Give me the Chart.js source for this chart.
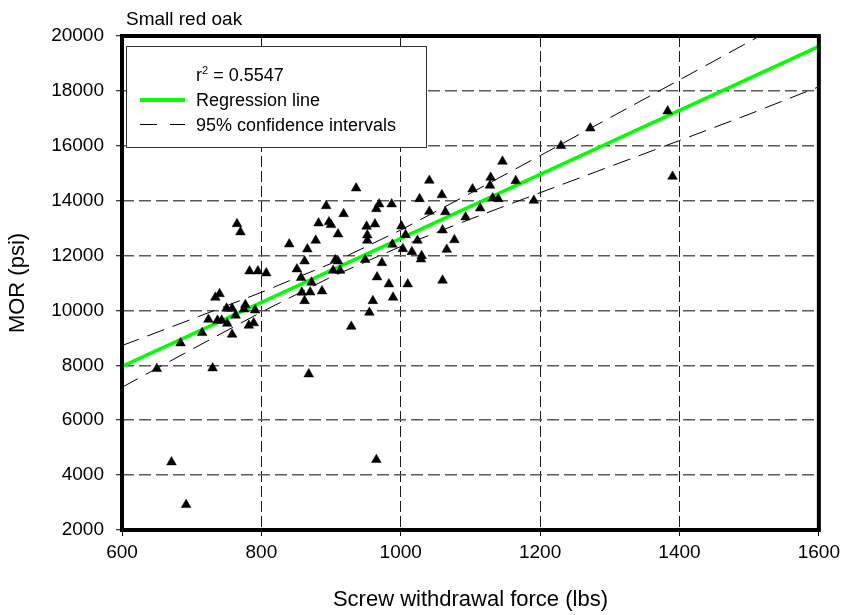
<!DOCTYPE html>
<html>
<head>
<meta charset="utf-8">
<script src="https://cdn.jsdelivr.net/npm/chart.js@4.4.1/dist/chart.umd.min.js"></script>
<style>
html,body{margin:0;padding:0;background:#fff;}
#wrap{position:relative;width:845px;height:615px;font-family:"Liberation Sans",Arial,sans-serif;color:#000;overflow:hidden;}
#c{position:absolute;left:0;top:0;}
#title{position:absolute;left:126px;top:8px;font-size:19px;line-height:22px;white-space:nowrap;}
#legend{position:absolute;left:126px;top:46px;width:301px;height:102px;border:1px solid #333;background:#fff;box-sizing:border-box;font-size:18px;}
.row{position:absolute;left:69px;white-space:nowrap;line-height:20px;height:20px;}
.sup{font-size:11px;position:relative;top:-7px;}
.seg{position:absolute;background:#000;}
</style>
</head>
<body>
<div id="wrap">
  <canvas id="c" width="845" height="615"></canvas>
  <div id="title">Small red oak</div>
  <div id="legend">
    <div class="row" style="top:18px">r<span class="sup">2</span> = 0.5547</div>
    <div class="seg" style="left:13px;top:51px;width:45px;height:4px;background:#00ff00"></div>
    <div class="row" style="top:43px">Regression line</div>
    <div class="seg" style="left:13px;top:77px;width:17px;height:1px"></div>
    <div class="seg" style="left:43px;top:77px;width:15px;height:1px"></div>
    <div class="row" style="top:68px">95% confidence intervals</div>
  </div>
</div>
<script>
// Observations: screw withdrawal force (lbs) and MOR (psi)
const FORCE = [936,893,918,882,897,900,910,765,770,840,878,866,862,906,910,851,903,913,857,783,795,807,872,858,870,887,862,740,734,777,775,750,758,791,724,737,743,751,763,782,789,715,758,684,650,730,929,868,1230,1146,1129,1128,1165,1041,1103,1059,1027,1132,1140,1191,969,965,987,1114,1041,1064,951,963,1093,1001,952,952,1007,1060,1024,1077,988,1003,1016,1066,1030,1029,949,973,966,983,1010,1060,989,960,955,1272,1383,1390,671,692,965];
const MOR = [14455,13810,13520,13180,13220,13120,12780,13155,12855,12415,12550,12235,11795,11840,11795,11505,11455,11455,11190,11430,11430,11360,11020,10655,10665,10705,10350,10605,10475,10205,10045,10075,10075,10010,9670,9635,9635,9525,9820,9455,9540,9185,9125,8810,7875,7900,9415,7680,16000,15430,14845,14555,14720,14735,14420,14210,14065,14090,14065,14005,13875,13700,13875,13725,13605,13590,13060,13145,13400,13070,12745,12550,12755,12925,12550,12570,12405,12245,12135,12220,11990,11870,11845,11735,11215,10960,10960,11095,10475,10350,9925,16640,17260,14880,4475,2920,4560];

// Regression line (read at the ends of the axis)
const REG_X = [600, 1600];
const REG_Y = [7960, 19620];

// 95% confidence bands
const CI_X     = [600, 700, 800, 900, 1000, 1100, 1200, 1300, 1400, 1500, 1600];
const CI_UPPER = [8720, 9680, 10660, 11710, 12930, 14270, 15640, 17020, 18400, 19790, 21180];
const CI_LOWER = [7200, 8580, 9940, 11220, 12330, 13330, 14290, 15240, 16190, 17150, 18150];

// Axis ticks
const X_TICKS = [600, 800, 1000, 1200, 1400, 1600];
const Y_TICKS = [2000, 4000, 6000, 8000, 10000, 12000, 14000, 16000, 18000, 20000];

const FONT = '"Liberation Sans", Arial, sans-serif';

const pts = FORCE.map((f, i) => ({x: f, y: MOR[i]}));
const reg = REG_X.map((x, i) => ({x, y: REG_Y[i]}));
const up = CI_X.map((x, i) => ({x, y: CI_UPPER[i]}));
const lo = CI_X.map((x, i) => ({x, y: CI_LOWER[i]}));

const framePlugin = {
  id: 'frame',
  afterDatasetsDraw(chart) {
    const {ctx, chartArea: a} = chart;
    ctx.save();
    ctx.setLineDash([]);
    ctx.lineWidth = 4;
    ctx.strokeStyle = '#000';
    ctx.strokeRect(a.left, a.top, a.right - a.left, a.bottom - a.top);
    ctx.restore();
  }
};

new Chart(document.getElementById('c'), {
  type: 'scatter',
  data: {
    datasets: [
      {
        label: 'Observations',
        data: pts,
        pointStyle: 'triangle',
        pointRadius: 5.6,
        backgroundColor: '#000',
        borderColor: '#000',
        borderWidth: 0.5,
        showLine: false
      },
      {
        label: 'Regression line',
        type: 'line',
        data: reg,
        borderColor: '#00ff00',
        borderWidth: 3.5,
        pointRadius: 0,
        fill: false,
        clip: 0
      },
      {
        label: 'Upper 95%',
        type: 'line',
        data: up,
        borderColor: '#000',
        borderWidth: 1,
        borderDash: [18, 9],
        pointRadius: 0,
        fill: false,
        tension: 0,
        clip: 0
      },
      {
        label: 'Lower 95%',
        type: 'line',
        data: lo,
        borderColor: '#000',
        borderWidth: 1,
        borderDash: [18, 9],
        pointRadius: 0,
        fill: false,
        tension: 0,
        clip: 0
      }
    ]
  },
  options: {
    responsive: false,
    animation: false,
    events: [],
    devicePixelRatio: 1,
    layout: {padding: {left: 0, right: 24, top: 36, bottom: 0}},
    plugins: {legend: {display: false}, tooltip: {enabled: false}, title: {display: false}},
    scales: {
      x: {
        type: 'linear',
        min: 600, max: 1600,
        afterBuildTicks: (s) => { s.ticks = X_TICKS.map(v => ({value: v})); },
        afterFit: (s) => { s.height = 85; },
        ticks: {color: '#000', font: {family: FONT, size: 19}, padding: 5, callback: (v) => String(v)},
        grid: {color: '#1a1a1a', lineWidth: 1, tickLength: 6, tickColor: '#000', tickWidth: 1, tickBorderDash: []},
        border: {display: false, dash: [11, 4]},
        title: {display: true, text: 'Screw withdrawal force (lbs)', color: '#000', font: {family: FONT, size: 22}, padding: {top: 0, bottom: 2}}
      },
      y: {
        type: 'linear',
        min: 2000, max: 20000,
        afterBuildTicks: (s) => { s.ticks = Y_TICKS.map(v => ({value: v})); },
        afterFit: (s) => { s.width = 122; },
        ticks: {color: '#000', font: {family: FONT, size: 19}, padding: 12, callback: (v) => String(v)},
        grid: {color: '#5a5a5a', lineWidth: 1.5, tickLength: 6, tickColor: '#000', tickWidth: 1, tickBorderDash: []},
        border: {display: false, dash: [12, 5]},
        title: {display: true, text: 'MOR (psi)', color: '#000', font: {family: FONT, size: 22}, padding: {top: 5, bottom: 0}}
      }
    }
  },
  plugins: [framePlugin]
});
</script>
</body>
</html>
